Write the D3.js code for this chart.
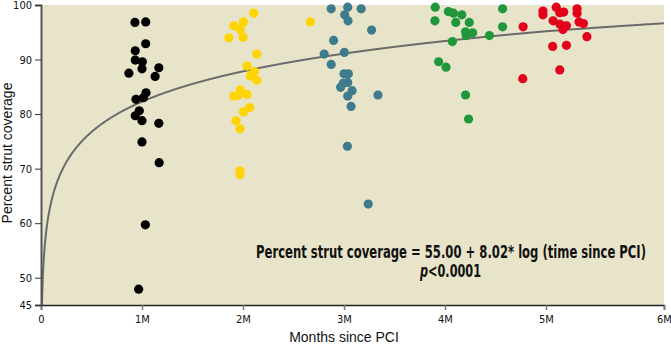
<!DOCTYPE html>
<meta charset="utf-8">
<style>
	body { margin: 0; background: #fff; }
	.tick text {
		font-family: "DejaVu Sans Condensed", "DejaVu Sans", sans-serif;
		font-stretch: condensed;
		font-size: 11px;
		fill: #111;
	}
	.title {
		font: 14px "Liberation Sans", Arial, sans-serif;
		fill: #111;
	}
	.note {
		font-family: "DejaVu Sans Condensed", "DejaVu Sans", sans-serif;
		font-stretch: condensed;
		font-weight: bold;
		font-size: 17px;
		fill: #111;
	}
</style>
<body>
<script src="https://d3js.org/d3.v7.min.js"></script>
<script>

	// time since PCI in days, strut coverage in percent
	var days1 = [27.9, 31.1, 31.1, 28.0, 28.0, 30.1, 30.0, 26.1, 35.0, 33.9, 31.2, 28.2, 30.4, 29.2, 28.0, 30.0, 35.0, 30.0, 35.1, 31.0, 29.0];
	var cov1  = [96.8, 96.9, 92.9, 91.6, 89.9, 89.6, 88.3, 87.5, 88.5, 86.9, 83.9, 82.7, 83.0, 80.6, 79.7, 78.8, 78.3, 74.9, 71.1, 59.7, 47.9];

	var days2 = [63.2, 57.3, 60.1, 59.2, 55.8, 60.0, 64.1, 61.2, 63.4, 62.2, 64.1, 59.2, 57.3, 58.5, 61.2, 62.0, 60.1, 57.9, 59.1, 59.1, 59.1, 80.0];
	var cov2  = [98.5, 96.2, 96.9, 95.5, 94.0, 94.1, 91.0, 88.8, 87.8, 87.0, 86.2, 84.4, 83.3, 83.4, 83.6, 81.2, 80.4, 78.8, 77.3, 69.6, 68.9, 96.9];

	var days3 = [86.2, 91.1, 95.1, 90.2, 91.2, 98.2, 86.9, 84.1, 90.1, 86.2, 90.0, 91.3, 91.1, 89.8, 89.0, 92.4, 91.1, 100.1, 92.1, 91.0, 97.2];
	var cov3  = [99.3, 99.6, 99.3, 98.2, 97.1, 95.4, 93.5, 91.0, 91.3, 89.1, 87.4, 87.4, 85.8, 85.7, 84.9, 84.3, 83.3, 83.5, 81.4, 74.1, 63.5];

	var days4 = [117.1, 117.0, 121.0, 122.5, 125.0, 123.2, 127.2, 137.1, 137.1, 126.1, 128.2, 126.3, 133.2, 122.2, 118.1, 120.3, 126.1, 127.0];
	var cov4  = [99.6, 97.1, 98.8, 98.5, 98.2, 96.8, 96.8, 99.3, 96.0, 95.1, 94.9, 94.4, 94.4, 93.3, 89.6, 88.6, 83.5, 79.1];

	var days5 = [149.1, 149.1, 152.6, 153.5, 154.5, 157.9, 157.9, 151.8, 153.5, 155.2, 154.3, 158.4, 159.5, 160.4, 143.2, 151.7, 155.2, 153.5, 143.1];
	var cov5  = [98.9, 98.2, 99.6, 98.6, 98.7, 99.3, 98.5, 97.1, 96.5, 96.2, 95.5, 96.9, 96.6, 94.2, 96.0, 92.4, 92.6, 88.1, 86.5];

	var groupDays = [days1, days2, days3, days4, days5];
	var groupCov = [cov1, cov2, cov3, cov4, cov5];
	var groupColors = ["#000000", "#ffd400", "#3e7c8d", "#1f973a", "#e2001a"];

	var xTicks = [0, 30, 60, 90, 120, 150, 180];
	var xTickLabels = ["0", "1M", "2M", "3M", "4M", "5M", "6M"];
	var yTicks = [45, 50, 60, 70, 80, 90, 100];

	// fit: coverage = a + b * ln(days)
	var fitA = 55.00, fitB = 8.02;

	var width = 671,
		height = 347;
	var margin = {top: 5, right: 7, bottom: 42, left: 41};
	var w = width - margin.left - margin.right,
		h = height - margin.top - margin.bottom;

	var svg = d3.select("body").append("svg")
		.attr("width", width)
		.attr("height", height);

	var g = svg.append("g")
		.attr("transform", "translate(" + margin.left + "," + margin.top + ")");

	// last month on the axis is drawn a little wider than the others
	var x = d3.scaleLinear()
		.domain([0, 150, 180])
		.range([0, 505, w]);

	var y = d3.scaleLinear()
		.domain([45, 100])
		.range([h, 0]);

	g.append("rect")
		.attr("width", w)
		.attr("height", h)
		.attr("fill", "#e8e4c9");

	// regression curve
	var curveDays = d3.range(0.29, 180.01, 0.1);
	var line = d3.line()
		.x(function(d) { return x(d); })
		.y(function(d) { return y(Math.max(45, fitA + fitB * Math.log(d))); });

	g.append("path")
		.datum([0.28].concat(curveDays))
		.attr("d", line)
		.attr("fill", "none")
		.attr("stroke", "#6b6b6b")
		.attr("stroke-width", 2);

	groupDays.forEach(function(ds, gi) {
		g.append("g").selectAll("circle")
			.data(ds)
			.enter().append("circle")
			.attr("cx", function(d) { return x(d); })
			.attr("cy", function(d, i) { return y(groupCov[gi][i]); })
			.attr("r", 4.6)
			.attr("fill", groupColors[gi]);
	});

	var xAxis = g.append("g")
		.attr("transform", "translate(0," + h + ")")
		.call(d3.axisBottom(x)
			.tickValues(xTicks)
			.tickFormat(function(d, i) { return xTickLabels[i]; })
			.tickSize(5)
			.tickPadding(5));
	xAxis.select(".domain").attr("stroke", "#222").attr("stroke-width", 1.5);
	xAxis.selectAll(".tick line").attr("stroke", "#777").attr("stroke-width", 1.5);

	var yAxis = g.append("g")
		.call(d3.axisLeft(y)
			.tickValues(yTicks)
			.tickSize(6)
			.tickPadding(3));
	yAxis.select(".domain").attr("stroke", "#555").attr("stroke-width", 2);
	yAxis.selectAll(".tick line").attr("stroke", "#333");

	svg.append("text")
		.attr("class", "title")
		.attr("x", margin.left + x(90))
		.attr("y", 342)
		.attr("text-anchor", "middle")
		.text("Months since PCI");

	svg.append("text")
		.attr("class", "title")
		.attr("transform", "translate(12," + 153 + ") rotate(-90)")
		.attr("text-anchor", "middle")
		.text("Percent strut coverage");

	svg.append("text")
		.attr("class", "note")
		.attr("x", 256)
		.attr("y", 258)
		.attr("textLength", 390)
		.attr("lengthAdjust", "spacingAndGlyphs")
		.text("Percent strut coverage = 55.00 + 8.02* log (time since PCI)");

	var pText = svg.append("text")
		.attr("class", "note")
		.attr("x", 420)
		.attr("y", 277)
		.attr("textLength", 61)
		.attr("lengthAdjust", "spacingAndGlyphs");
	pText.append("tspan").attr("font-style", "italic").text("p");
	pText.append("tspan").text("<0.0001");

</script>
